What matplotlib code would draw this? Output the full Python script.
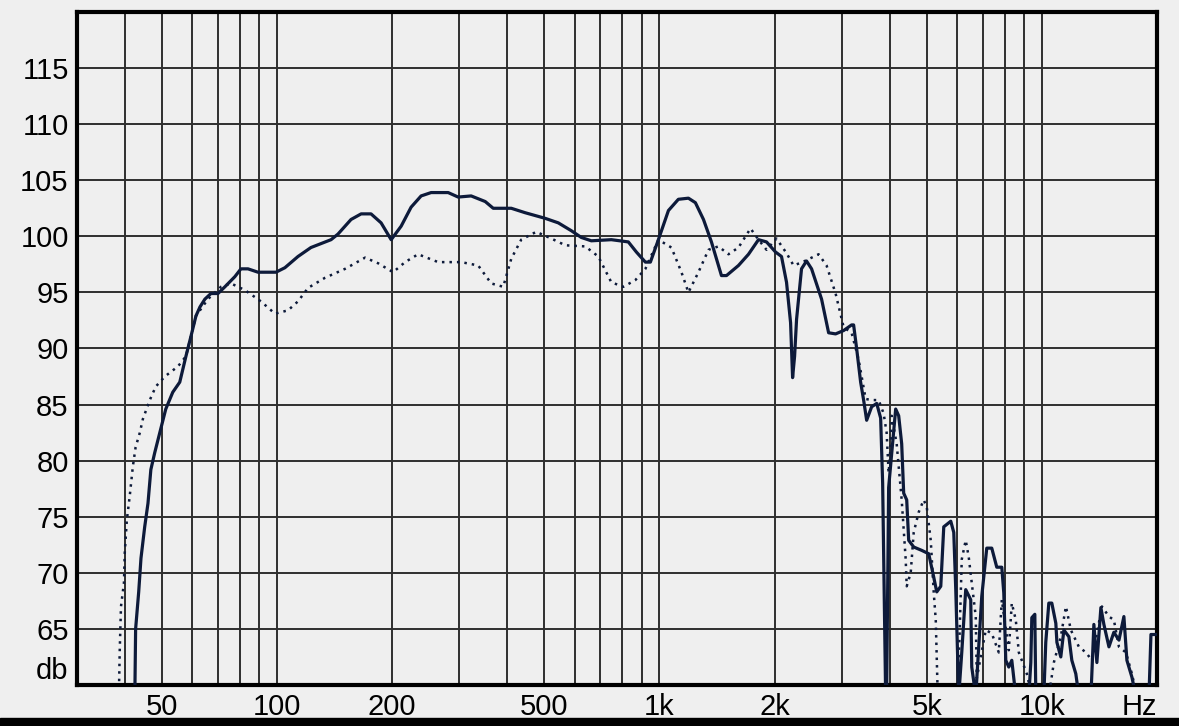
import matplotlib
matplotlib.use("Agg")
import matplotlib.pyplot as plt
from matplotlib import font_manager
from matplotlib.patches import Rectangle


def pick_font(names):
    for n in names:
        try:
            font_manager.findfont(n, fallback_to_default=False)
            return n
        except ValueError:
            pass
    return "DejaVu Sans"


# solid trace (Hz, dB)
solid_f = [42.5, 42.7, 43.5, 44.1, 45.1, 46.0, 46.8, 47.9, 49.4, 51.2, 53.4, 55.7, 57.8, 59.6,
           61.4, 62.9, 64.8, 67.2, 70.1, 73.1, 77.6, 80.5, 84.0, 89.2, 99.4, 104.9, 113.5, 122.7,
           138.5, 144.4, 156.2, 166.0, 176.2, 187.2, 198.9, 211.2, 224.3, 238.2, 253.0, 280.3,
           297.7, 322.0, 350.4, 367.7, 409.9, 446.0, 503.0, 544.0, 588.4, 624.8, 663.7, 748.7,
           829.5, 870.6, 919.1, 947.2, 994, 1056, 1121, 1191, 1242, 1304, 1368, 1453, 1498, 1610,
           1710, 1816, 1906, 2012, 2086, 2150, 2203, 2230, 2257, 2284, 2353, 2425, 2500, 2655,
           2770, 2889, 3032, 3181, 3220, 3279, 3359, 3420, 3483, 3589, 3700, 3789, 3835, 3905,
           3928, 3976, 4148, 4224, 4301, 4353, 4433, 4486, 4624, 4852, 5061, 5217, 5312, 5442,
           5541, 5780, 5885, 5956, 6064, 6175, 6324, 6518, 6558, 6718, 6965, 7178, 7398, 7624,
           7858, 7953, 8049, 8196, 8346, 8549, 9247, 9358, 9415, 9587, 9645, 10120, 10240, 10430,
           10620, 10880, 10950, 11210, 11420, 11770, 11980, 12270, 12500, 13440, 13680, 13930,
           14270, 14530, 14980, 15430, 15910, 16390, 16690, 17200, 17620, 19060, 19290, 20000]
solid_db = [59, 65, 68.3, 71.3, 74.1, 76.2, 79.2, 80.7, 82.5, 84.6, 86.1, 87.0, 89.3, 91.1,
            92.9, 93.7, 94.4, 94.9, 94.9, 95.5, 96.4, 97.1, 97.1, 96.8, 96.8, 97.2, 98.2, 99.0,
            99.7, 100.2, 101.5, 102.0, 102.0, 101.2, 99.7, 100.9, 102.6, 103.6, 103.9, 103.9,
            103.5, 103.6, 103.1, 102.5, 102.5, 102.1, 101.6, 101.2, 100.5, 99.9, 99.6, 99.7,
            99.5, 98.6, 97.7, 97.7, 99.7, 102.3, 103.3, 103.4, 103.0, 101.5, 99.5, 96.5, 96.5, 97.4,
            98.4, 99.7, 99.5, 98.6, 98.2, 95.9, 92.3, 87.4, 89.3, 92.6, 97.1, 97.8, 97.1, 94.4,
            91.4, 91.3, 91.6, 92.1, 92.1, 90.0, 87.0, 85.4, 83.6, 84.8, 85.1, 83.8, 78, 59,
            59, 77.6, 84.6, 84.0, 81.5, 77.1, 76.5, 72.9, 72.3, 72.0, 71.7, 69.6, 68.3, 68.8,
            74.1, 74.6, 73.6, 68.5, 59, 62.9, 68.5, 67.6, 61.6, 59, 67.9, 72.2, 72.2, 70.5,
            70.5, 68.2, 62.2, 61.6, 62.2, 59, 59, 62, 66, 66.3, 59, 59, 63.8, 67.3,
            67.3, 65.5, 63.8, 62.5, 64.9, 64.3, 62.2, 61.0, 59, 59, 65.4, 62.0,
            66.9, 65.4, 63.4, 64.7, 64.0, 66.1, 62.2, 60.7, 59, 59, 64.5, 64.5]

# dotted trace (Hz, dB)
dotted_f = [38.6, 38.8, 39.1, 39.8, 40.0, 40.5, 41.2, 42.0, 42.7, 43.8, 44.6, 46.5, 48.2, 50.9,
            55.1, 57.8, 59.6, 61.4, 66.0, 71.4, 75.8, 82.5, 90.8, 98.8, 106.9, 113.5, 120.6,
            133.5, 150.7, 170.0, 183.8, 201.2, 216.3, 233.9, 263.9, 303.2, 335.9, 363.3, 390.5,
            409.9, 435.2, 476.4, 521.7, 567.5, 640.1, 692.3, 748.7, 805.0, 865.4, 919.1, 994,
            1075, 1142, 1191, 1265, 1344, 1427, 1516, 1610, 1731, 1816, 1906, 2024, 2150, 2243,
            2367, 2608, 2736, 2889, 3032, 3181, 3319, 3462, 3589, 3744, 3858, 3928, 3976, 4024,
            4049, 4173, 4301, 4406, 4433, 4541, 4624, 4764, 4910, 5000, 5123, 5217, 5280, 5344,
            6028, 6175, 6324, 6440, 6558, 6718, 6759, 7136, 7398, 7717, 7858, 8196, 8346, 8549,
            8706, 8864, 9136, 9415, 10430, 10750, 11210, 11560, 11910, 12500, 13040, 13520,
            14360, 14980, 15430, 15910, 16590, 17200, 17730]
dotted_db = [59, 63, 67.0, 69.1, 71.8, 74.7, 76.8, 79.5, 81.2, 82.5, 83.7, 85.4, 86.6, 87.5,
             88.4, 89.3, 91.1, 92.9, 94.4, 95.5, 95.8, 95.2, 94.2, 93.1, 93.4, 94.2, 95.4,
             96.3, 97.1, 98.1, 97.6, 96.8, 97.7, 98.4, 97.7, 97.7, 97.4, 95.8, 95.5,
             98.0, 99.7, 100.4, 99.8, 99.2, 99.1, 98.2, 95.9, 95.5, 96.1, 97.1, 99.7,
             99.0, 96.8, 95.0, 96.8, 98.8, 99.1, 98.4, 99.0, 100.7, 99.7, 98.8, 99.8, 98.5, 97.4,
             97.7, 98.4, 97.4, 94.9, 91.9, 91.4, 89.0, 85.5, 85.4, 85.4, 84.2, 82.5, 78.9, 81.3,
             84.0, 81.5, 76.5, 71.2, 68.8, 70.0, 73.6, 75.4, 76.5, 75.9, 72.9, 68.2, 65.8, 59,
             59, 71.2, 72.9, 71.4, 69.1, 66.1, 60.6, 64.9, 64.6, 62.9, 67.6, 63.1, 67.3, 65.8,
             62.9, 62.2, 61.0, 59, 59, 62.0, 64.3, 67.0, 64.9, 63.4, 62.9, 62.2,
             67.0, 66.1, 65.8, 63.4, 62.9, 61.0, 59]

x_ticks = [50, 100, 200, 500, 1000, 2000, 5000, 10000, 20000]
x_labels = ["50", "100", "200", "500", "1k", "2k", "5k", "10k", "Hz"]
x_grid = [40, 50, 60, 70, 80, 90, 100, 200, 300, 400, 500, 600, 700, 800, 900, 1000,
          2000, 3000, 4000, 5000, 6000, 7000, 8000, 9000, 10000]
y_ticks = [60, 65, 70, 75, 80, 85, 90, 95, 100, 105, 110, 115]
y_labels = ["db", "65", "70", "75", "80", "85", "90", "95", "100", "105", "110", "115"]

bg = "#efefef"
ink = "#0d1a3a"
grid_c = "#2e2e2e"

fam = pick_font(["Liberation Sans Narrow", "Liberation Sans", "DejaVu Sans"])
fsize = 21

fig = plt.figure(figsize=(11.79, 7.26), dpi=100, facecolor=bg)
ax = fig.add_axes([0.0653, 0.0565, 0.916, 0.927])
ax.set_facecolor(bg)

ax.set_xscale("log")
ax.set_xlim(30, 20000)
ax.set_ylim(60, 120)

ax.set_xticks(x_ticks)
ax.set_xticklabels(x_labels)
ax.set_xticks(x_grid, minor=True)
ax.xaxis.set_minor_formatter(plt.NullFormatter())
ax.set_yticks(y_ticks)
ax.set_yticklabels(y_labels)

ax.grid(False)
ax.grid(True, which="both", axis="x", color=grid_c, lw=1.4)
ax.grid(True, which="major", axis="y", color=grid_c, lw=1.4)
ax.set_axisbelow(True)

ax.tick_params(which="both", length=0, pad=6, labelsize=fsize, colors="black")
for t in ax.get_xticklabels() + ax.get_yticklabels():
    t.set_family(fam)
ax.get_xticklabels()[-1].set_ha("right")
ax.get_yticklabels()[0].set_va("bottom")

for s in ax.spines.values():
    s.set_linewidth(3)
    s.set_color("black")

ax.plot(dotted_f, dotted_db, color=ink, lw=1.8, ls=(0, (1, 2)), zorder=3)
ax.plot(solid_f, solid_db, color=ink, lw=2.3, zorder=4)

fig.patches.append(Rectangle((0, 0), 1, 0.011, transform=fig.transFigure,
                             color="black", zorder=0))

fig.savefig("out.png", dpi=100, facecolor=bg)
